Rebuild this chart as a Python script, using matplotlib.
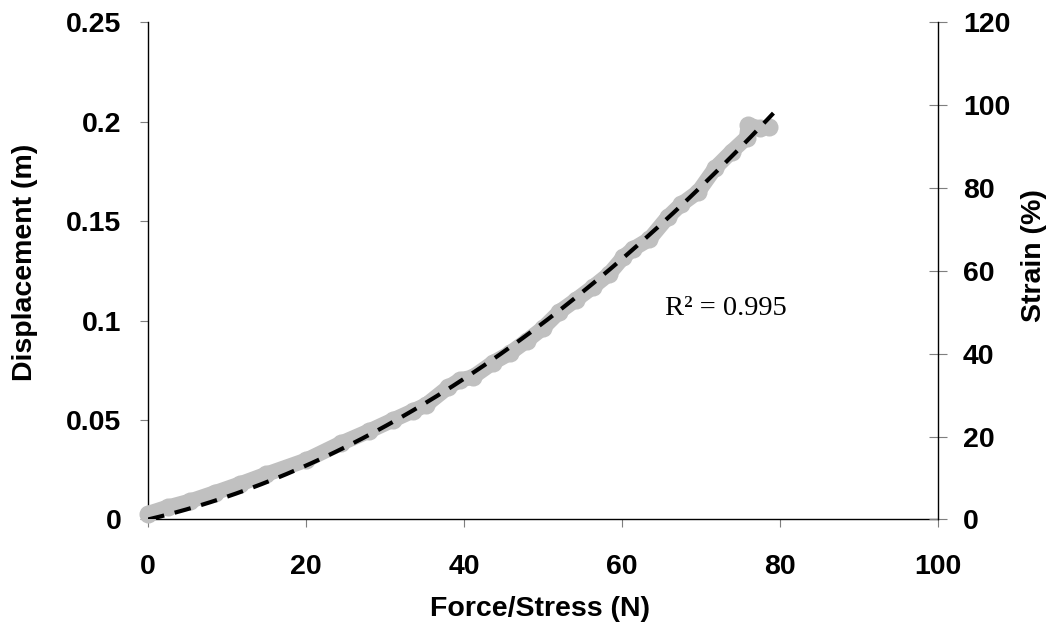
import numpy as np
import matplotlib
matplotlib.use("Agg")
import matplotlib.pyplot as plt
from matplotlib.ticker import FormatStrFormatter, MultipleLocator

# Measured force vs displacement
force = [0.0, 2.5, 5.3, 8.5, 11.6, 15.0, 20.0, 24.4, 28.0, 31.0, 33.5, 35.2,
         38.0, 39.5, 41.1, 43.7, 45.8, 48.0, 50.0, 52.1, 54.2, 56.3, 58.4,
         60.2, 61.4, 63.5, 65.8, 67.5, 69.7, 71.8, 73.9, 75.8, 76.0, 77.5, 78.7]
displacement = [0.0030, 0.0062, 0.0092, 0.0135, 0.0178, 0.0228, 0.0298, 0.0383,
                0.0445, 0.0500, 0.0545, 0.0576, 0.0665, 0.0702, 0.0716, 0.0789,
                0.0836, 0.0900, 0.0962, 0.1045, 0.1105, 0.1168, 0.1235, 0.1320,
                0.1360, 0.1410, 0.1520, 0.1585, 0.1649, 0.1767, 0.1850, 0.1920,
                0.1985, 0.1968, 0.1975]
r_squared_label = "R\u00b2 = 0.995"

plt.rcParams['font.family'] = ['Liberation Sans', 'DejaVu Sans']
plt.rcParams['font.weight'] = 'bold'
plt.rcParams['axes.labelweight'] = 'bold'

x = np.array(force)
y = np.array(displacement)

# quadratic trendline through the origin
A = np.column_stack([x, x ** 2])
coef, *_ = np.linalg.lstsq(A, y, rcond=None)
x_fit = np.linspace(0, x.max() + 0.5, 200)
y_fit = coef[0] * x_fit + coef[1] * x_fit ** 2

fig = plt.figure(figsize=(10.53, 6.26), dpi=100)
ax = fig.add_axes([0.14055, 0.17013, 0.74995, 0.79393])
ax2 = ax.twinx()

ax.plot(x, y, '-o', color='#c0c0c0', lw=11, ms=13, mec='none',
        solid_joinstyle='round', solid_capstyle='round', clip_on=False, zorder=3)
ax.plot(x_fit, y_fit, color='black', lw=3.0, linestyle=(0, (4, 2.6)),
        dash_capstyle='butt', zorder=4)

ax.text(65.5, 0.1029, r_squared_label, family='Liberation Serif',
        fontweight='normal', fontsize=20.5, va='baseline', ha='left')

ax.set_xlim(0, 100)
ax.set_ylim(0, 0.25)
ax2.set_ylim(0, 120)
ax.xaxis.set_major_locator(MultipleLocator(20))
ax.yaxis.set_major_locator(MultipleLocator(0.05))
ax2.yaxis.set_major_locator(MultipleLocator(20))
ax.yaxis.set_major_formatter(FormatStrFormatter('%g'))

for s in ['top', 'right']:
    ax.spines[s].set_visible(False)
for s in ['top', 'left', 'bottom']:
    ax2.spines[s].set_visible(False)
for sp in [ax.spines['left'], ax.spines['bottom'], ax2.spines['right']]:
    sp.set_linewidth(1.0)
    sp.set_color('black')

ax.tick_params(axis='x', direction='out', length=6, width=0.8, color='#7f7f7f',
               pad=18.5, labelsize=20.5)
ax.tick_params(axis='y', direction='out', length=6, width=0.8, color='#7f7f7f',
               pad=13, labelsize=20.5)
ax2.tick_params(axis='y', direction='inout', length=13.5, width=0.8,
                color='#7f7f7f', pad=11.5, labelsize=20.5)

ax.set_xlabel('Force/Stress (N)', fontsize=20.5, va='center')
ax.xaxis.set_label_coords(0.497, -0.18)
ax.set_ylabel('Displacement (m)', fontsize=20.5, va='center')
ax.yaxis.set_label_coords(-0.156, 0.518)
ax2.set_ylabel('Strain (%)', fontsize=20.5, va='center')
ax2.yaxis.set_label_coords(1.122, 0.532)

fig.savefig('out.png', dpi=100)
